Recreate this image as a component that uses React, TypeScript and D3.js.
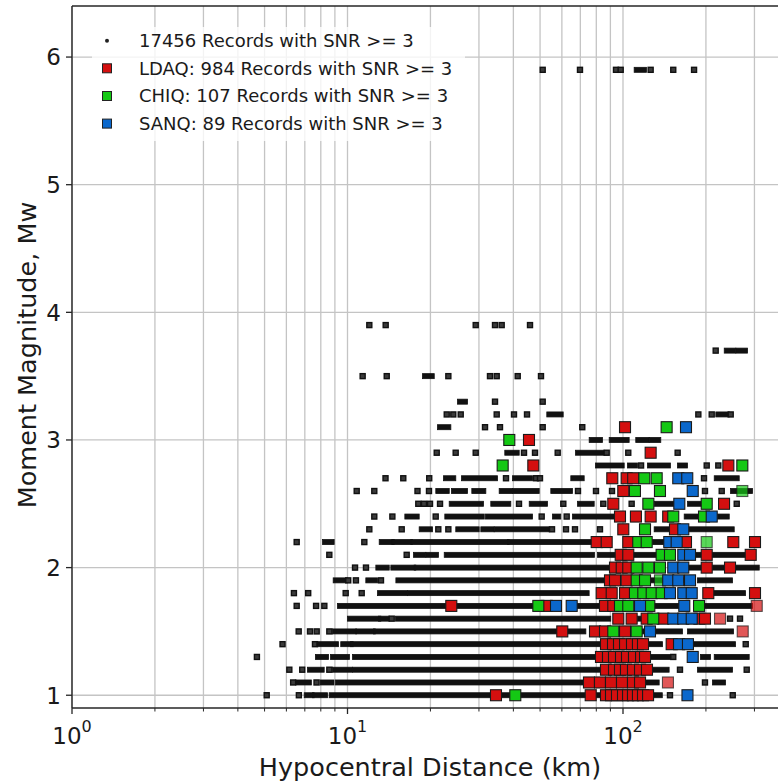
import React from 'react';
import * as d3 from 'd3';

const W = 778;
const H = 783;
const PLOT = { left: 72, right: 778, top: 6, bottom: 708 };

// ---------- data ----------
type Item = number | [number, number];

// all records (black): magnitude rows, distances (km); [a,b] = dense run of records between a and b
const allMagnitudes: number[] = [1.0, 1.1, 1.2, 1.3, 1.4, 1.5, 1.6, 1.7, 1.8, 1.9, 2.0, 2.1, 2.2, 2.3, 2.4, 2.5, 2.6, 2.7, 2.8, 2.9, 3.0, 3.1, 3.2, 3.3, 3.5, 3.7, 3.9, 5.9];
const allDistances: Item[][] = [
  [5.09, 6.66, [7.11, 7.41], [7.62, 8.29], [8.76, 136], 148.1, 250.2],
  [6.35, [6.61, 7.24], 7.72, [8.12, 8.75], [9.24, 132.5], 198.4, [215.7, 230.7]],
  [6.15, 6.85, [7.31, 8.06], 8.59, [9.01, 10.21], [10.65, 144.0], 161.0, [190.3, 244.6], 281.2],
  [4.69, [7.81, 8.36], [8.86, 9.96], [10.65, 145.6], 152.2, [195.1, 203.5], [218.9, 281.2]],
  [5.81, 7.62, [7.9, 9.08], [9.65, 10.27], [10.47, 136.2], [182.6, 250.8], 278.9],
  [6.65, 7.31, 7.73, 8.59, [9.01, 10.56], [10.94, 12.35], [12.69, 71.8], [115.3, 161.0], [175.1, 246.7]],
  [[10.21, 12.94], [13.23, 13.88], 14.47, [15.22, 88.4], [115.3, 175.1], 244.6, 265.9],
  [6.54, 7.69, 8.24, [9.39, 47.1], [66.95, 82.5], [130.6, 156.6], [195.1, 289.1]],
  [6.39, 7.2, 9.85, 11.26, [13.12, 16.17], [16.86, 73.8], [212.2, 272.7]],
  [[9.06, 9.79], 10.06, 10.73, [11.9, 12.59], 13.23, [15.3, 87.25], [115.3, 175.1], [190.3, 244.6]],
  [10.65, 11.67, [12.94, 13.88], [14.67, 17.33], [17.83, 87.25], [175.1, 190.3], [212.2, 238.5], [250.8, 305.8]],
  [8.59, 16.4, [17.73, 18.84], [19.65, 20.95], [22.92, 77.17], [82.5, 136.2], [182.6, 277.3]],
  [6.54, [8.29, 8.76], 11.51, [13.31, 14.47], [14.79, 16.86], [17.33, 37.83], [38.89, 75.89], [125.3, 139.7]],
  [12.0, 15.73, [18.59, 19.93], 21.36, 23.23, [25.24, 29.44], [31.12, 33.37], [34.8, 52.85], 55.25, 62.1, 66.95, 82.5, [132.5, 145.9], [175.1, 248.1]],
  [12.51, 14.55, [16.49, 17.83], 20.9, [23.03, 30.7], [32.28, 45.97], 50.68, [56.65, 58.24], 62.46, [66.95, 93.53], [170.3, 185.2], [225.0, 238.0]],
  [18.07, 18.95, 19.93, 21.67, [23.89, 30.52], [33.82, 38.34], 41.93, [46.63, 52.1], 60.72, [69.8, 76.97], 84.81, 107.5, [132.5, 156.6], [175.1, 195.1], 258.7],
  [10.8, 12.51, 17.95, 19.76, [21.36, 22.92], [24.35, 26.7], [28.86, 31.12], [36.28, 38.89], [40.55, 48.62], [55.85, 64.21], 68.65, 79.79, 91.22, 198.4, 228.2, [250.8, 289.1]],
  [13.74, 15.94, 19.8, [22.78, 24.21], [26.48, 34.31], 37.61, [40.55, 45.97], 48.33, 49.97, [66.01, 70.8], 196.8, [218.9, 258.7]],
  [[81.13, 98.92], [106.0, 110.5], 116.3, [125.3, 145.6], [161.0, 167.9], 201.3, 221.8],
  [21.08, 24.7, 29.2, [38.02, 41.13], 43.72, 47.93, 57.94, [68.65, 83.68], 87.25, 104.5, 157.9],
  [[76.97, 82.5], [90.98, 103.1], [113.6, 121.9], [127.1, 134.3]],
  [[21.67, 23.23], 31.56, 35.77, 51.11, 71.15],
  [22.92, 24.21, 25.76, 34.8, 40.21, 44.83, [54.01, 59.41], 187.7, 209.9, [221.8, 238.0], 246.0],
  [[25.61, 26.7], 34.31, 51.11],
  [11.35, 13.88, [19.11, 20.22], 23.23, 32.9, 34.8, 41.48, 50.39],
  [217.0, [238.0, 251.4], [262.2, 277.3]],
  [12.0, 13.76, 29.2, 34.31, 36.28, 45.97],
  [51.11, 69.8, 94.31, 98.09, [112.1, 119.2], 126.0, 152.2, 181.1],
];

// station records: [distance km, magnitude]
const ldaq: [number, number][] = [
  [101.7, 3.1], [45.58, 3.0], [126.0, 2.9], [47.26, 2.8], [241.2, 2.8],
  [91.44, 2.7], [103.1, 2.7], [108.9, 2.7], [100.25, 2.6], [92.21, 2.5], [232.7, 2.5],
  [97.52, 2.4], [111.4, 2.4], [126.0, 2.4], [145.9, 2.4], [100.25, 2.3], [154.4, 2.3],
  [80.26, 2.2], [87.25, 2.2], [104.5, 2.2], [169.3, 2.2], [251.4, 2.2], [301.4, 2.2],
  [98.09, 2.1], [104.5, 2.1], [201.3, 2.1], [290.8, 2.1],
  [93.53, 2.0], [98.92, 2.0], [104.5, 2.0], [201.3, 2.0], [244.6, 2.0],
  [89.7, 1.9], [93.53, 1.9], [103.1, 1.9],
  [83.68, 1.8], [90.98, 1.8], [101.7, 1.8], [204.0, 1.8], [301.4, 1.8],
  [23.81, 1.7], [52.85, 1.7], [86.02, 1.7], [92.21, 1.7],
  [96.15, 1.6], [107.5, 1.6], [121.9, 1.6], [140.0, 1.6], [189.3, 1.6], [198.4, 1.6],
  [60.2, 1.5], [79.13, 1.5], [86.02, 1.5], [101.7, 1.5],
  [86.74, 1.4], [91.98, 1.4], [96.71, 1.4], [101.7, 1.4], [107.8, 1.4], [113.3, 1.4], [118.2, 1.4], [150.2, 1.4],
  [83.19, 1.3], [88.2, 1.3], [92.75, 1.3], [98.34, 1.3], [103.4, 1.3], [109.6, 1.3], [116.3, 1.3], [120.2, 1.3],
  [86.74, 1.2], [92.75, 1.2], [97.52, 1.2], [102.5, 1.2], [108.7, 1.2], [115.3, 1.2], [122.2, 1.2],
  [75.25, 1.1], [82.5, 1.1], [90.45, 1.1], [99.17, 1.1], [108.7, 1.1], [115.3, 1.1],
  [34.59, 1.0], [76.34, 1.0], [86.74, 1.0], [90.45, 1.0], [95.1, 1.0], [100.0, 1.0], [104.3, 1.0], [108.7, 1.0], [113.3, 1.0], [118.2, 1.0], [123.3, 1.0],
];
const ldaqSingle: [number, number][] = [[305.8, 1.7], [225.0, 1.6], [272.0, 1.5], [145.6, 1.1]];

const chiq: [number, number][] = [
  [144.0, 3.1], [38.66, 3.0], [36.58, 2.8], [271.1, 2.8], [119.5, 2.7], [132.5, 2.7],
  [110.5, 2.6], [136.2, 2.6], [123.6, 2.5], [201.3, 2.5], [152.2, 2.4], [196.8, 2.4],
  [120.2, 2.3], [113.6, 2.2], [121.9, 2.2], [138.1, 2.1], [148.1, 2.1],
  [112.1, 2.0], [123.6, 2.0], [136.2, 2.0], [112.1, 1.9], [120.2, 1.9],
  [110.5, 1.8], [118.5, 1.8], [127.1, 1.8], [138.1, 1.8],
  [49.28, 1.7], [97.52, 1.7], [104.5, 1.7], [124.6, 1.7], [188.8, 1.7],
  [128.8, 1.6], [92.21, 1.5], [112.1, 1.5], [40.65, 1.0],
];
const chiqSingle: [number, number][] = [[271.1, 2.6], [201.3, 2.2], [136.2, 1.9]];

const sanq: [number, number][] = [
  [169.3, 3.1], [158.7, 2.7], [171.1, 2.7], [179.1, 2.6], [160.1, 2.5], [209.9, 2.4],
  [165.5, 2.3], [147.2, 2.2], [156.6, 2.2], [165.5, 2.1], [175.1, 2.1],
  [152.2, 2.0], [165.5, 2.0], [145.9, 1.9], [158.7, 1.9], [175.1, 1.9],
  [148.1, 1.8], [165.5, 1.8], [177.6, 1.8],
  [57.12, 1.7], [65.13, 1.7], [115.3, 1.7], [166.9, 1.7],
  [152.2, 1.6], [165.5, 1.6], [177.6, 1.6], [125.3, 1.5],
  [159.7, 1.4], [172.1, 1.4], [179.1, 1.3], [171.4, 1.0],
];

const legendLabels = [
  '17456 Records with SNR >= 3',
  'LDAQ: 984 Records with SNR >= 3',
  'CHIQ: 107 Records with SNR >= 3',
  'SANQ: 89 Records with SNR >= 3',
];
const seriesColors = ['#222222', '#d40f0f', '#14c814', '#0b68cc'];
const xMajorTicks = [1, 10, 100];
const yTicks = [1, 2, 3, 4, 5, 6];
const xLabel = 'Hypocentral Distance (km)';
const yLabel = 'Moment Magnitude, Mw';

// ---------- chart ----------
const FONT = '"DejaVu Sans", Verdana, sans-serif';

export default function App() {
  const x = d3
    .scaleLog()
    .domain([1, Math.pow(10, (PLOT.right - PLOT.left) / 275.5)])
    .range([PLOT.left, PLOT.right]);
  const y = d3.scaleLinear().domain([0.9, 6.4]).range([PLOT.bottom, PLOT.top]);

  const gridX = x.ticks();
  const S = 5; // small marker size
  const B = 11; // station marker size

  const blackMarks: JSX.Element[] = [];
  allMagnitudes.forEach((m, i) => {
    const cy = y(m);
    allDistances[i].forEach((it, j) => {
      if (Array.isArray(it)) {
        const x0 = x(it[0]);
        const x1 = x(it[1]);
        blackMarks.push(
          <rect key={`b${i}-${j}`} x={x0 - S / 2} y={cy - S / 2} width={x1 - x0 + S} height={S}
            fill="#111" stroke="#111" strokeWidth={0.8} />
        );
      } else {
        blackMarks.push(
          <rect key={`b${i}-${j}`} x={x(it) - S / 2} y={cy - S / 2} width={S} height={S}
            fill="#3a3a3a" stroke="#111" strokeWidth={1.4} />
        );
      }
    });
  });

  const station = (data: [number, number][], color: string, key: string, opacity = 1) =>
    data.map(([d, m], i) => (
      <rect key={`${key}${i}`} x={x(d) - B / 2} y={y(m) - B / 2} width={B} height={B}
        fill={color} fillOpacity={opacity} stroke="#1a1a1a" strokeOpacity={opacity < 1 ? 0.7 : 1} strokeWidth={1.1} />
    ));

  const legendY = [40.7, 68.3, 96, 123.6];

  return (
    <svg width={W} height={H} style={{ position: 'absolute', left: 0, top: 0, background: '#fff' }}
      fontFamily={FONT}>
      <rect x={0} y={0} width={W} height={H} fill="#fff" />
      {/* grid */}
      <g stroke="#c4c4c4" strokeWidth={1.3}>
        {gridX.map((t) => (
          <line key={`gx${t}`} x1={x(t)} x2={x(t)} y1={PLOT.top} y2={PLOT.bottom} />
        ))}
        {yTicks.map((t) => (
          <line key={`gy${t}`} x1={PLOT.left} x2={PLOT.right} y1={y(t)} y2={y(t)} />
        ))}
      </g>

      {/* data */}
      <g>{blackMarks}</g>
      <g>
        {station(ldaq, seriesColors[1], 'l')}
        {station(ldaqSingle, seriesColors[1], 'ls', 0.7)}
        {station(chiq, seriesColors[2], 'c')}
        {station(chiqSingle, seriesColors[2], 'cs', 0.7)}
        {station(sanq, seriesColors[3], 's')}
      </g>

      {/* spines */}
      <g stroke="#262626" strokeWidth={1.4} fill="none">
        <line x1={PLOT.left} x2={PLOT.left} y1={PLOT.top} y2={PLOT.bottom} />
        <line x1={PLOT.left} x2={PLOT.right} y1={PLOT.bottom} y2={PLOT.bottom} />
        <line x1={PLOT.left} x2={PLOT.right} y1={PLOT.top} y2={PLOT.top} />
      </g>

      {/* ticks */}
      <g stroke="#262626">
        {gridX.map((t) => {
          const major = xMajorTicks.includes(t);
          return (
            <line key={`tx${t}`} x1={x(t)} x2={x(t)} y1={PLOT.bottom} y2={PLOT.bottom + (major ? 6 : 3.5)}
              strokeWidth={major ? 1.3 : 1} />
          );
        })}
        {yTicks.map((t) => (
          <line key={`ty${t}`} x1={PLOT.left - 6} x2={PLOT.left} y1={y(t)} y2={y(t)} strokeWidth={1.3} />
        ))}
      </g>
      <g fill="#1a1a1a">
        {xMajorTicks.map((t) => (
          <text key={`lx${t}`} x={x(t)} y={744} textAnchor="middle" fontSize={23}>
            10<tspan dy={-12} fontSize={16}>{Math.round(Math.log10(t))}</tspan>
          </text>
        ))}
        {yTicks.map((t) => (
          <text key={`ly${t}`} x={PLOT.left - 11} y={y(t)} dy="0.36em" textAnchor="end" fontSize={23}>
            {t}
          </text>
        ))}
        <text x={430} y={776} textAnchor="middle" fontSize={25.5}>
          {xLabel}
        </text>
        <text transform={`translate(36, 355) rotate(-90)`} textAnchor="middle" fontSize={25.5}>
          {yLabel}
        </text>
      </g>

      {/* legend */}
      <g>
        <rect x={92} y={27} width={373} height={114} fill="#fff" fillOpacity={0.8} stroke="none" />
        <circle cx={107} cy={legendY[0]} r={2} fill={seriesColors[0]} />
        {[1, 2, 3].map((k) => (
          <rect key={`lm${k}`} x={107 - 4.5} y={legendY[k] - 4.5} width={9} height={9}
            fill={seriesColors[k]} stroke="#222" strokeWidth={1} />
        ))}
        {legendLabels.map((s, k) => (
          <text key={`lt${k}`} x={139} y={legendY[k]} dy="0.36em" fontSize={18} fill="#1a1a1a">
            {s}
          </text>
        ))}
      </g>
    </svg>
  );
}
